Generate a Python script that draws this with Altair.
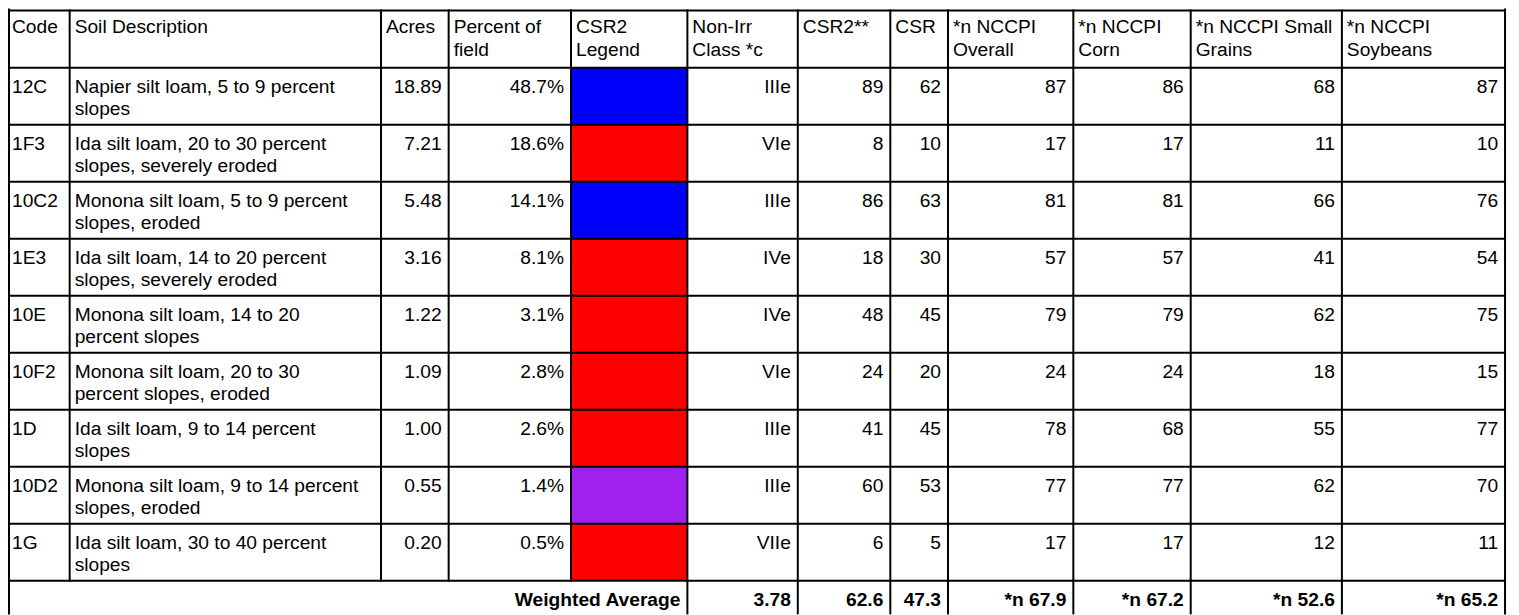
import altair as alt
import pandas as pd

# ---------------- data ----------------
headers = ["Code", "Soil Description", "Acres", "Percent of\nfield", "CSR2\nLegend",
           "Non-Irr\nClass *c", "CSR2**", "CSR", "*n NCCPI\nOverall", "*n NCCPI\nCorn",
           "*n NCCPI Small\nGrains", "*n NCCPI\nSoybeans"]
codes = ["12C", "1F3", "10C2", "1E3", "10E", "10F2", "1D", "10D2", "1G"]
descriptions = [
    "Napier silt loam, 5 to 9 percent\nslopes",
    "Ida silt loam, 20 to 30 percent\nslopes, severely eroded",
    "Monona silt loam, 5 to 9 percent\nslopes, eroded",
    "Ida silt loam, 14 to 20 percent\nslopes, severely eroded",
    "Monona silt loam, 14 to 20\npercent slopes",
    "Monona silt loam, 20 to 30\npercent slopes, eroded",
    "Ida silt loam, 9 to 14 percent\nslopes",
    "Monona silt loam, 9 to 14 percent\nslopes, eroded",
    "Ida silt loam, 30 to 40 percent\nslopes",
]
acres = ["18.89", "7.21", "5.48", "3.16", "1.22", "1.09", "1.00", "0.55", "0.20"]
percent_of_field = ["48.7%", "18.6%", "14.1%", "8.1%", "3.1%", "2.8%", "2.6%", "1.4%", "0.5%"]
csr2_legend = ["#0000ff", "#ff0000", "#0000ff", "#ff0000", "#ff0000", "#ff0000", "#ff0000", "#a020f0", "#ff0000"]
non_irr_class = ["IIIe", "VIe", "IIIe", "IVe", "IVe", "VIe", "IIIe", "IIIe", "VIIe"]
csr2 = [89, 8, 86, 18, 48, 24, 41, 60, 6]
csr = [62, 10, 63, 30, 45, 20, 45, 53, 5]
nccpi_overall = [87, 17, 81, 57, 79, 24, 78, 77, 17]
nccpi_corn = [86, 17, 81, 57, 79, 24, 68, 77, 17]
nccpi_small_grains = [68, 11, 66, 41, 62, 18, 55, 62, 12]
nccpi_soybeans = [87, 10, 76, 54, 75, 15, 77, 70, 11]
footer_label = "Weighted Average"
footer_values = ["3.78", "62.6", "47.3", "*n 67.9", "*n 67.2", "*n 52.6", "*n 65.2"]

# ---------------- layout ----------------
W, H = 1511, 607
col_edges = [-1, 62, 375, 443, 566, 683, 794, 887, 945, 1071, 1189, 1341, 1505]
header_top = 1
header_h = 57.5
row_h = 57.3
pad_l, pad_r = 5, 7
FONT = "Liberation Sans"
FS = 19.3
LH = 22.5

columns = [codes, descriptions, acres, percent_of_field, None, non_irr_class,
           csr2, csr, nccpi_overall, nccpi_corn, nccpi_small_grains, nccpi_soybeans]
aligns = ["left", "left", "right", "right", None, "right",
          "right", "right", "right", "right", "right", "right"]

n = len(codes)
row_tops = [header_top + header_h + i * row_h for i in range(n)]
footer_top = header_top + header_h + n * row_h

left_txt, right_txt, bold_txt, cells = [], [], [], []
for j, h in enumerate(headers):
    left_txt.append({"x": col_edges[j] + pad_l, "y": header_top + 23, "t": h})
for i in range(n):
    for j, col in enumerate(columns):
        if col is None:
            cells.append({"x": col_edges[j], "x2": col_edges[j + 1],
                          "y": row_tops[i], "y2": row_tops[i] + row_h, "c": csr2_legend[i]})
            continue
        ytxt = row_tops[i] + 25.3
        if aligns[j] == "left":
            left_txt.append({"x": col_edges[j] + pad_l, "y": ytxt, "t": str(col[i])})
        else:
            right_txt.append({"x": col_edges[j + 1] - pad_r, "y": ytxt, "t": str(col[i])})
bold_txt.append({"x": col_edges[5] - pad_r, "y": footer_top + 25.3, "t": footer_label})
for k, v in enumerate(footer_values):
    bold_txt.append({"x": col_edges[6 + k] - pad_r, "y": footer_top + 25.3, "t": v})

# grid lines
lx, rx = 1, col_edges[-1]
lines = []
lines.append({"x": lx, "x2": lx, "y": 0, "y2": H})
lines.append({"x": rx, "x2": rx, "y": 0, "y2": H})
for e in col_edges[1:-1]:
    lines.append({"x": e, "x2": e, "y": header_top, "y2": footer_top})
for e in col_edges[5:-1]:
    lines.append({"x": e, "x2": e, "y": footer_top, "y2": H})
for yy in [header_top, header_top + header_h] + [t + row_h for t in row_tops]:
    lines.append({"x": lx, "x2": rx, "y": yy, "y2": yy})

xs = alt.Scale(domain=[0, W], nice=False, zero=False)
ys = alt.Scale(domain=[0, H], nice=False, zero=False, reverse=True)


def xy():
    return dict(x=alt.X("x:Q", scale=xs, axis=None), y=alt.Y("y:Q", scale=ys, axis=None))


cell_layer = alt.Chart(pd.DataFrame(cells)).mark_rect().encode(
    x=alt.X("x:Q", scale=xs, axis=None), x2="x2:Q",
    y=alt.Y("y:Q", scale=ys, axis=None), y2="y2:Q",
    color=alt.Color("c:N", scale=None))

line_layer = alt.Chart(pd.DataFrame(lines)).mark_rule(
    color="#000000", strokeWidth=2, strokeCap="square").encode(
    x=alt.X("x:Q", scale=xs, axis=None), x2="x2:Q",
    y=alt.Y("y:Q", scale=ys, axis=None), y2="y2:Q")

common = dict(font=FONT, fontSize=FS, color="#000000", lineBreak="\n",
              lineHeight=LH, baseline="alphabetic")
left_layer = alt.Chart(pd.DataFrame(left_txt)).mark_text(align="left", **common).encode(
    **xy(), text="t:N")
right_layer = alt.Chart(pd.DataFrame(right_txt)).mark_text(align="right", **common).encode(
    **xy(), text="t:N")
bold_layer = alt.Chart(pd.DataFrame(bold_txt)).mark_text(align="right", fontWeight="bold", **common).encode(
    **xy(), text="t:N")

chart = alt.layer(cell_layer, line_layer, left_layer, right_layer, bold_layer).properties(
    width=W, height=H, padding=0, autosize=alt.AutoSizeParams(type="none")
).configure_view(stroke=None)

chart.save("out.html", embed_options={"renderer": "svg", "actions": False})
